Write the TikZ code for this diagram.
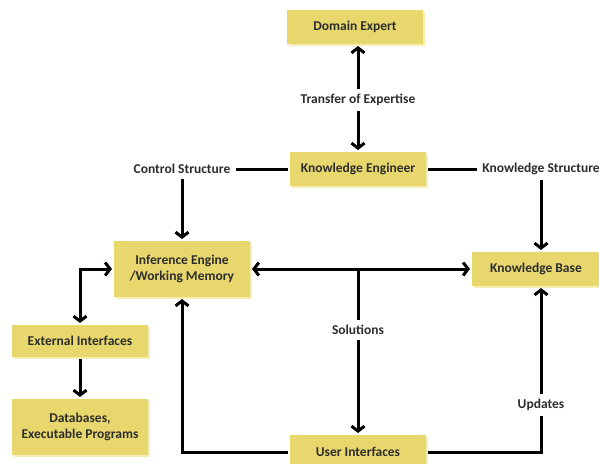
\documentclass[tikz,border=0pt]{standalone}
\usepackage{fontspec}
\setmainfont{Carlito}
\usetikzlibrary{arrows.meta,shadows}
\definecolor{boxfill}{RGB}{232,215,108}
\definecolor{boxshade}{RGB}{246,238,176}
\definecolor{ink}{RGB}{45,45,45}
\tikzset{
  box/.style = {
    fill=boxfill, text=ink, align=center, inner sep=2pt, outer sep=2pt,
    minimum width=136, minimum height=34,
    drop shadow={fill=boxshade, opacity=1, shadow xshift=2pt, shadow yshift=-2pt}
  },
  tag/.style = {fill=white, text=ink, inner sep=4pt}
}
\tikzset{>={Straight Barb[length=5pt,width=13pt]}}

\begin{document}
\begin{tikzpicture}[x=1pt,y=-1pt,line width=3pt,
    font=\fontsize{13.5}{16.5}\selectfont\bfseries]
  \useasboundingbox (0,0) rectangle (599,463);
  % boxes
  \node[box] (expert) at (355,27) {Domain Expert};
  \node[box] (engineer) at (358,169) {Knowledge Engineer};
  \node[box, minimum height=56] (inference) at (182,269) {Inference Engine\\/Working Memory};
  \node[box, minimum width=128] (kbase) at (536,269) {Knowledge Base};
  \node[box, minimum height=32] (external) at (80,341) {External Interfaces};
  \node[box, minimum height=56] (databases) at (80,427) {Databases,\\Executable Programs};
  \node[box] (user) at (358,452) {User Interfaces};
  % labels
  \node[tag] (transfer) at (358,100) {Transfer of Expertise};
  \node[tag] (control) at (182,169) {Control Structure};
  \node[tag] (structure) at (541,169) {Knowledge Structure};
  \node[tag] (solutions) at (358,330) {Solutions};
  \node[tag] (updates) at (541,405) {Updates};
  \coordinate (split) at (358,269);
  % expert and engineer
  \draw[->] (transfer) -- (transfer |- expert.south);
  \draw[->] (transfer) -- (engineer);
  \draw (engineer) -- (control);
  \draw (engineer) -- (structure);
  \draw[->] (control) -- (inference);
  \draw[->] (structure) -- (structure |- kbase.north);
  % engine and base
  \draw[<->] (inference) -- (kbase);
  \draw (split) -- (solutions);
  \draw[->] (solutions) -- (user);
  \draw[->] (user.west) -| (inference.south);
  \draw (user.east) -| (updates.south);
  \draw[->] (updates) -- (updates |- kbase.south);
  % external side
  \draw[<->] (inference.west) -| (external.north);
  \draw[->] (external) -- (databases);
\end{tikzpicture}
\end{document}
